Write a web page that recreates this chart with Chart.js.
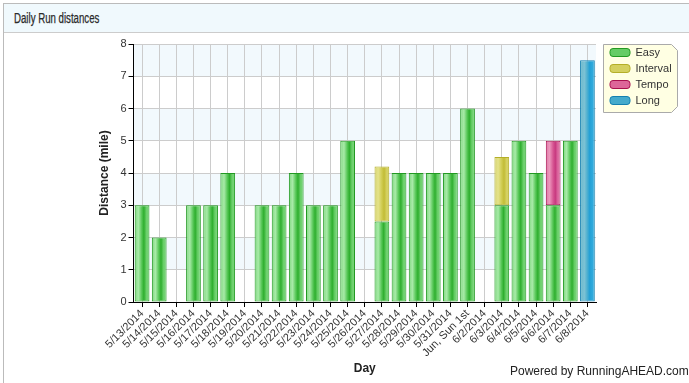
<!DOCTYPE html>
<html>
<head>
<meta charset="utf-8">
<script src="https://cdn.jsdelivr.net/npm/chart.js@4.4.1/dist/chart.umd.min.js"></script>
<style>
  body { margin: 0; background: #fff; font-family: Arial, "Liberation Sans", sans-serif; }
  #panel { position: absolute; left: 3px; top: 3px; width: 700px; height: 400px; border: 1px solid #bbb; }
  #head { height: 28px; background: #f0f9fd; border-bottom: 1px solid #ccc; }
  #head span { position: absolute; left: 10px; top: 6px; font-family: "Liberation Sans Narrow", "Arial Narrow", Arial, sans-serif; font-size: 14px; color: #2a2a2a; -webkit-text-stroke: 0.25px #2a2a2a; transform: scaleX(0.69); transform-origin: 0 0; white-space: nowrap; }
  #wrap { position: absolute; left: 0; top: 34px; width: 689px; height: 349px; }
  #powered { position: absolute; left: 510px; top: 364px; font-size: 12px; color: #222; }
</style>
</head>
<body>
<div id="panel"><div id="head"><span>Daily Run distances</span></div></div>
<div id="wrap"><canvas id="myChart"></canvas></div>
<div id="powered">Powered by RunningAHEAD.com</div>
<script>
// data
const days = ['5/13/2014', '5/14/2014', '5/15/2014', '5/16/2014', '5/17/2014', '5/18/2014', '5/19/2014',
  '5/20/2014', '5/21/2014', '5/22/2014', '5/23/2014', '5/24/2014', '5/25/2014', '5/26/2014',
  '5/27/2014', '5/28/2014', '5/29/2014', '5/30/2014', '5/31/2014', 'Jun, Sun 1st', '6/2/2014',
  '6/3/2014', '6/4/2014', '6/5/2014', '6/6/2014', '6/7/2014', '6/8/2014'];
const easy     = [3, 2, null, 3, 3, 4, null, 3, 3, 4, 3, 3, 5, null, 2.5, 4, 4, 4, 4, 6, null, 3, 5, 4, 3, 5, null];
const interval = [null, null, null, null, null, null, null, null, null, null, null, null, null, null, 1.7, null, null, null, null, null, null, 1.5, null, null, null, null, null];
const tempo    = [null, null, null, null, null, null, null, null, null, null, null, null, null, null, null, null, null, null, null, null, null, null, null, null, 2, null, null];
const long     = [null, null, null, null, null, null, null, null, null, null, null, null, null, null, null, null, null, null, null, null, null, null, null, null, null, null, 7.5];
const yTicks = [0, 1, 2, 3, 4, 5, 6, 7, 8];

const barPct = 0.86;

// shaded bar fill, one gradient across the chart with stops per category
function shade(stops, flat) {
  return (c) => {
    const chart = c.chart;
    const area = chart.chartArea;
    if (!area || !chart.scales.x) return flat;
    const x = chart.scales.x;
    const g = chart.ctx.createLinearGradient(area.left, 0, area.right, 0);
    const step = x.getPixelForValue(1) - x.getPixelForValue(0);
    const w = step * barPct / 2;
    const span = area.right - area.left;
    let last = 0;
    days.forEach((d, i) => {
      const cx = x.getPixelForValue(i);
      stops.forEach(s => {
        let p = (cx - w + s[0] * 2 * w - area.left) / span;
        p = Math.min(1, Math.max(last, p));
        last = p;
        g.addColorStop(p, s[1]);
      });
    });
    return g;
  };
}

const greenStops = [[0, '#80d880'], [0.25, '#a8eaa8'], [0.48, '#55c655'], [0.62, '#2eae2e'], [0.8, '#6cd06c'], [1, '#7cd67c']];
const yellowStops = [[0, '#d6d470'], [0.25, '#e4e28a'], [0.5, '#cfcb50'], [0.65, '#c2bc36'], [0.82, '#d4d060'], [1, '#d8d46c']];
const pinkStops = [[0, '#e07aa8'], [0.25, '#ec96bc'], [0.5, '#d65592'], [0.65, '#c83a80'], [0.82, '#dc6aa0'], [1, '#e07aa8']];
const blueStops = [[0, '#6ab8cc'], [0.3, '#7cc2d4'], [0.5, '#4aaed0'], [0.65, '#22a0d6'], [0.85, '#30aadc'], [1, '#40b0dc']];

const flats = ['#66cc66', '#d4d060', '#dd6699', '#44aacc'];

// alternating light bands and the legend box
const bands = {
  id: 'bands',
  beforeLayout(chart) {
    const l = chart.legend;
    if (l && !l._fixed) {
      const fit = l.fit;
      l.fit = function () { fit.call(this); this.width = 93; };
      l._fixed = true;
    }
  },
  afterLayout(chart) {
    const l = chart.legend;
    if (l) { l.left += 9; l.right += 9; l.top -= 2; l.bottom -= 2; }
  },
  beforeDraw(chart) {
    const { ctx, chartArea, scales } = chart;
    const y = scales.y;
    ctx.save();
    ctx.fillStyle = '#f2f9fd';
    for (let v = 1; v < 8; v += 2) {
      const top = y.getPixelForValue(v + 1), bot = y.getPixelForValue(v);
      ctx.fillRect(chartArea.left, top, chartArea.right - chartArea.left, bot - top);
    }
    const x0 = chartArea.right + 7.5, y0 = chartArea.top + 0.5, x1 = x0 + 74, y1 = y0 + 68, k = 6;
    ctx.beginPath();
    ctx.moveTo(x0, y0);
    ctx.lineTo(x1 - k, y0);
    ctx.lineTo(x1, y0 + k);
    ctx.lineTo(x1, y1 - k);
    ctx.lineTo(x1 - k, y1);
    ctx.lineTo(x0, y1);
    ctx.closePath();
    ctx.fillStyle = '#ffffe3';
    ctx.fill();
    ctx.strokeStyle = '#aaa';
    ctx.lineWidth = 1;
    ctx.stroke();
    ctx.restore();
  }
};

const ds = (label, data, stops, flat, border) => ({
  label: label,
  data: data,
  backgroundColor: shade(stops, flat),
  borderColor: border,
  borderWidth: 1,
  borderSkipped: false,
  barPercentage: barPct,
  categoryPercentage: 1
});

new Chart(document.getElementById('myChart'), {
  type: 'bar',
  data: {
    labels: days,
    datasets: [
      ds('Easy', easy, greenStops, flats[0], '#229922'),
      ds('Interval', interval, yellowStops, flats[1], '#b4ae28'),
      ds('Tempo', tempo, pinkStops, flats[2], '#a8104f'),
      ds('Long', long, blueStops, flats[3], '#1480b0')
    ]
  },
  options: {
    responsive: true,
    maintainAspectRatio: false,
    animation: false,
    layout: { padding: { left: 97, top: 10, right: 0, bottom: 7 } },
    plugins: {
      tooltip: { enabled: false },
      legend: {
        position: 'right',
        align: 'start',
        labels: {
          boxWidth: 20,
          boxHeight: 8,
          padding: 5,
          color: '#333',
          font: { family: 'Arial', size: 11 },
          useBorderRadius: true,
          borderRadius: 3,
          generateLabels(chart) {
            const items = Chart.defaults.plugins.legend.labels.generateLabels(chart);
            items.forEach((it, i) => { it.fillStyle = flats[i]; it.lineWidth = 1; });
            return items;
          }
        }
      }
    },
    scales: {
      x: {
        stacked: true,
        offset: true,
        grid: { offset: false, color: '#cccccc', tickColor: '#000', tickLength: 5 },
        border: { color: '#000', width: 1 },
        ticks: { maxRotation: 45, minRotation: 45, autoSkip: false, color: '#333', padding: 0, font: { family: 'Arial', size: 11 } },
        title: { display: true, text: 'Day', color: '#222', font: { family: 'Arial', size: 12, weight: 'bold' }, padding: { top: 2, bottom: 0 } }
      },
      y: {
        stacked: true,
        min: 0,
        max: 8,
        afterBuildTicks(axis) { axis.ticks = yTicks.map(v => ({ value: v })); },
        grid: { color: '#cccccc', tickColor: '#000', tickLength: 5 },
        border: { color: '#000', width: 1 },
        ticks: { color: '#333', padding: 2, font: { family: 'Arial', size: 11 } },
        title: { display: true, text: 'Distance (mile)', color: '#222', font: { family: 'Arial', size: 12, weight: 'bold' }, padding: { top: 0, bottom: 7 } }
      }
    }
  },
  plugins: [bands]
});
</script>
</body>
</html>
